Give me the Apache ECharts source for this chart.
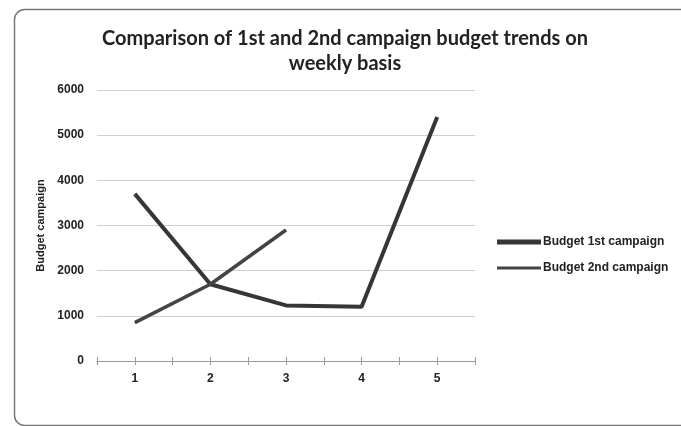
<!DOCTYPE html>
<html>
<head>
<meta charset="utf-8">
<script src="https://cdn.jsdelivr.net/npm/echarts@6/dist/echarts.min.js"></script>
<style>
  html, body { margin: 0; padding: 0; background: #fff; }
  #chart { width: 681px; height: 426px; }
</style>
</head>
<body>
<div id="chart"></div>
<script>
// Weekly budget figures for both campaigns
const weeks = ['1', '2', '3', '4', '5'];
const halfSteps = ['', '', '', '', '', '', '', '', '', ''];
const budget1st = [3700, 1700, 1230, 1200, 5400];
const budget2nd = [850, 1700, 2900];
const yTicks = { min: 0, max: 6000, interval: 1000 };

const chart = echarts.init(document.getElementById('chart'), null, { renderer: 'canvas' });

// Extra category axes that only draw the small ticks at every half week,
// one set pointing down and one pointing up so they cross the axis line.
const tickAxis = (inside) => ({
  type: 'category',
  data: halfSteps,
  position: 'bottom',
  boundaryGap: true,
  axisLine: { show: false },
  axisLabel: { show: false },
  splitLine: { show: false },
  axisTick: { show: true, inside: inside, length: 4, lineStyle: { color: '#999', width: 1 } }
});

chart.setOption({
  backgroundColor: '#fff',
  animation: false,
  title: {
    text: 'Comparison of 1st and 2nd campaign budget trends on\nweekly basis',
    left: 340,
    top: 21,
    textAlign: 'center',
    textStyle: {
      fontFamily: 'Lato',
      fontWeight: 'bold',
      fontSize: 20,
      lineHeight: 25,
      color: '#222'
    }
  },
  legend: [
    {
      data: ['Budget 1st campaign'],
      left: 492, top: 231,
      icon: 'rect', itemWidth: 44, itemHeight: 5, itemGap: 2,
      textStyle: { fontFamily: 'Liberation Sans', fontWeight: 'bold', fontSize: 12, color: '#222', padding: [0, 0, 0, -3] }
    },
    {
      data: ['Budget 2nd campaign'],
      left: 492, top: 257,
      icon: 'rect', itemWidth: 44, itemHeight: 3, itemGap: 2,
      textStyle: { fontFamily: 'Liberation Sans', fontWeight: 'bold', fontSize: 12, color: '#222', padding: [0, 0, 0, -3] }
    }
  ],
  grid: { left: 97, right: 206, top: 90, bottom: 65 },
  xAxis: [
    {
      type: 'category',
      data: weeks,
      boundaryGap: true,
      axisLine: { show: true, lineStyle: { color: '#999', width: 1 } },
      axisTick: { show: false },
      axisLabel: { fontFamily: 'Liberation Sans', fontWeight: 'bold', fontSize: 12, color: '#222', margin: 12 }
    },
    tickAxis(false),
    tickAxis(true)
  ],
  yAxis: {
    type: 'value',
    min: yTicks.min,
    max: yTicks.max,
    interval: yTicks.interval,
    name: 'Budget campaign',
    nameLocation: 'middle',
    nameGap: 44,
    nameTextStyle: { fontFamily: 'Liberation Sans', fontWeight: 'bold', fontSize: 11, color: '#222' },
    axisLine: { show: false },
    axisTick: { show: false },
    axisLabel: {
      fontFamily: 'Liberation Sans', fontWeight: 'bold', fontSize: 12, color: '#222', margin: 13,
      formatter: (v) => String(v)
    },
    splitLine: { lineStyle: { color: '#d0d0d0', width: 1 } }
  },
  series: [
    {
      name: 'Budget 1st campaign',
      type: 'line',
      data: budget1st,
      showSymbol: false,
      symbol: 'none',
      color: '#363636',
      lineStyle: { color: '#363636', width: 4 },
      z: 3
    },
    {
      name: 'Budget 2nd campaign',
      type: 'line',
      data: budget2nd,
      showSymbol: false,
      symbol: 'none',
      color: '#444',
      lineStyle: { color: '#444', width: 3.5 },
      z: 4
    }
  ],
  graphic: [
    {
      type: 'rect',
      left: 12, top: 7,
      shape: { width: 700, height: 416, r: 10 },
      style: { fill: 'none', stroke: '#777', lineWidth: 1.5 },
      silent: true
    }
  ]
});
</script>
</body>
</html>
